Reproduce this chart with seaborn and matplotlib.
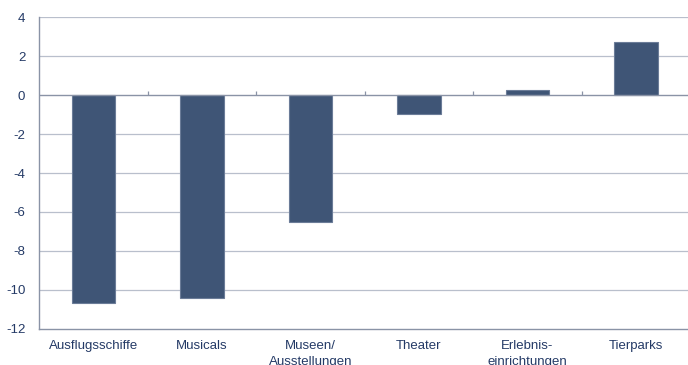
import matplotlib
matplotlib.use("Agg")
import matplotlib.pyplot as plt
import seaborn as sns
import pandas as pd
import numpy as np

categories = ["Ausflugsschiffe", "Musicals", "Museen/\nAusstellungen", "Theater",
              "Erlebnis-\neinrichtungen", "Tierparks"]
values = [-10.65, -10.4, -6.5, -0.95, 0.25, 2.7]
yticks = [4, 2, 0, -2, -4, -6, -8, -10, -12]

sns.set_theme(style="white")
plt.rcParams['font.family'] = ['Liberation Sans', 'DejaVu Sans']

df = pd.DataFrame({"cat": categories, "val": values})

fig = plt.figure(figsize=(6.88, 3.65), dpi=100)
ax = fig.add_axes([0.057, 0.099, 0.946, 0.854])

sns.barplot(data=df, x="cat", y="val", color="#3f5576", width=0.4,
            edgecolor="#6b7c98", linewidth=0.8, saturation=1, ax=ax, zorder=3)

ax.set_ylim(-12, 4)
ax.set_xlim(-0.5, len(categories) - 0.5)
ax.set_yticks(yticks)
ax.set_yticklabels([str(t) for t in yticks])
ax.set_xlabel("")
ax.set_ylabel("")

for t in yticks:
    if t not in (0, -12):
        ax.axhline(t, color="#b9bfcc", linewidth=0.9, zorder=1)
ax.axhline(0, color="#8a93a6", linewidth=1.0, zorder=4)
bounds = np.arange(len(categories) - 1) + 0.5
ax.vlines(bounds, 0, 0.22, color="#8a93a6", linewidth=0.9, zorder=4)

for s in ["top", "right"]:
    ax.spines[s].set_visible(False)
for s in ["left", "bottom"]:
    ax.spines[s].set_color("#8a93a6")
    ax.spines[s].set_linewidth(1.0)

ax.tick_params(axis="both", length=0, labelsize=9.5, colors="#243a66")
ax.tick_params(axis="x", pad=8)
ax.tick_params(axis="y", pad=10)
for lbl in ax.get_xticklabels():
    lbl.set_linespacing(1.5)

fig.savefig("out.png", dpi=100)
